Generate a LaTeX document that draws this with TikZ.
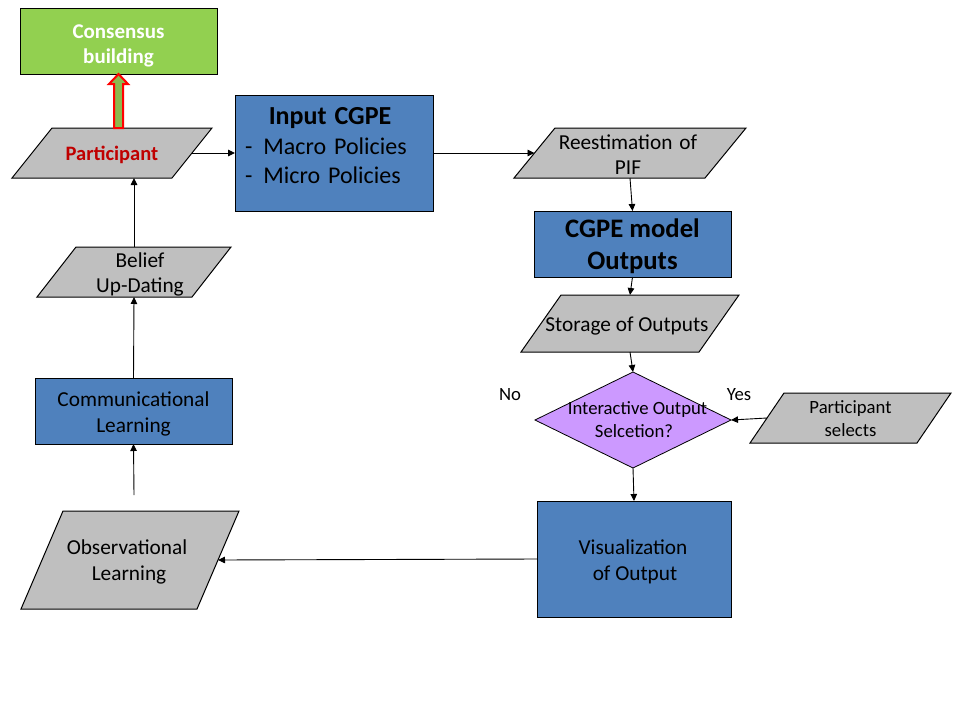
\documentclass[tikz,border=0pt]{standalone}
\usepackage{fontspec}
\setmainfont{Carlito}
\usetikzlibrary{arrows.meta,calc}
\definecolor{bluebox}{HTML}{4F81BD}
\definecolor{grayfill}{HTML}{BFBFBF}
\definecolor{greenbox}{HTML}{92D050}
\definecolor{purplefill}{HTML}{CC99FF}
\definecolor{darkred}{HTML}{C00000}
\definecolor{arrowgreen}{HTML}{8DB84E}
\newcommand\fs[2]{\fontsize{#1}{#2}\selectfont}
\tikzset{
 box/.style={draw=black, line width=1pt, fill=bluebox, inner sep=0pt, outer sep=0pt},
 pbox/.style={inner sep=0pt, outer sep=0pt},
 txt/.style={align=center, inner sep=0pt, outer sep=0pt},
 pshape/.style={draw=black, line width=1pt, fill=grayfill},
 dshape/.style={draw=black, line width=0.8pt, fill=purplefill},
 conn/.style={draw=black, line width=0.9pt, -{Triangle[length=7pt,width=6.5pt]}},
 hollowarrow/.style={draw=red, line width=2pt, fill=arrowgreen, line join=miter},
}
% [style], name, center, w, h, font, shift, then text read by \boxtext
\newcommand\boxnode[7][]{%
 \node[box, #1, minimum width=#4pt, minimum height=#5pt] (#2) at #3 {};
 \boxtext{#2}{#6}{#7}}
\newcommand\boxtext[4]{\node[txt, font=#2] (#1-text) at ($(#1.center)+#3$) {#4};}
% name, center, w, h, offset, font, shift, text
\newcommand\paranode[8]{%
 \node[pbox, minimum width=#3pt, minimum height=#4pt] (#1) at #2 {};
 \path[pshape] ([xshift=#5pt]#1.north west) -- (#1.north east) -- ([xshift=-#5pt]#1.south east) -- (#1.south west) -- cycle;
 \node[txt, font=#6] (#1-text) at ($(#1.center)+#7$) {#8};}
\begin{document}
\begin{tikzpicture}[x=1pt,y=-1pt]
\useasboundingbox (0,0) rectangle (960,720);

\boxnode[fill=greenbox]{cons}{(118.5,41)}{197}{66}{\color{white}\bfseries\fs{21}{25}}{(0,4.5)}{Consensus\\building}

\paranode{part}{(112,153)}{200}{50}{40}{\color{darkred}\bfseries\fs{20.5}{25}}{(0,2)}{Participant}

\node[box, minimum width=198pt, minimum height=116pt] (input) at (334,153) {};
\node[align=left, text width=170pt, inner sep=0pt, font=\fs{24}{29.5}] (input-text) at (330,146) {\makebox[170pt][c]{\bfseries\fs{26}{29.5}Input CGPE}\\-\hspace{11pt}Macro Policies\\-\hspace{11pt}Micro Policies};

\paranode{reest}{(630,153)}{232}{50}{41}{\fs{21.3}{25}}{(-2,1.5)}{Reestimation\hspace{7pt}of\\PIF}

\boxnode{cgpe}{(632.5,244)}{197}{66}{\bfseries\fs{26.7}{32}}{(0,2)}{CGPE model\\Outputs}

\paranode{stor}{(630,323.5)}{218}{57}{40}{\fs{21.3}{26}}{(-3,2.5)}{Storage of Outputs}

\node[pbox, minimum width=196pt, minimum height=96pt] (dia) at (633,420) {};
\path[dshape] (dia.west) -- (dia.north) -- (dia.east) -- (dia.south) -- cycle;
\node[txt, font=\fs{18.7}{23}] (dia-text) at ($(dia.center)+(1,-0.5)$) {\hspace*{7pt}Interactive Output\\Selcetion?};

\node[font=\fs{18.7}{22}] (no) at (510,394.5) {No};
\node[font=\fs{18.7}{22}] (yes) at (739,394.5) {Yes};

\paranode{sel}{(850.5,418)}{201}{50}{34}{\fs{18.7}{23}}{(0,0.5)}{Participant\\selects}

\boxnode{vis}{(634,559)}{194}{116}{\fs{21.3}{26}}{(-1,2.5)}{Visualization\\\hspace*{4pt}of Output}

\paranode{obs}{(130,560)}{218}{98}{42}{\fs{21.3}{26}}{(-3,1.5)}{Observational\\\hspace*{4pt}Learning}

\boxnode{comm}{(133.5,411)}{197}{66}{\fs{21.3}{26}}{(0,2.5)}{Communicational\\Learning}

\paranode{bel}{(134,272)}{194}{50}{39}{\fs{21.3}{25}}{(6,2)}{Belief\\Up-Dating}

\coordinate (obstop) at (134,495);

\draw[conn] ([xshift=-20pt]part.east) -- (input.west);
\draw[conn] (input.east) -- ([xshift=20.5pt]reest.west);
\draw[conn] (reest.south) -- (cgpe.north);
\draw[conn] (cgpe.south) -- (stor.north);
\draw[conn] (stor.south) -- (dia.north);
\draw[conn] ([xshift=17pt]sel.west) -- (dia.east);
\draw[conn] (dia.south) -- (vis.north);
\draw[conn] (vis.west) -- ([xshift=-21pt]obs.east);
\draw[conn] (obstop) -- (comm.south);
\draw[conn] (comm.north) -- (bel.south);
\draw[conn] (bel.north) -- (bel.north |- part.south);

\path[hollowarrow]
 ($(cons.south |- part.north)+(-4.5,0)$) -- ($(cons.south)+(-4.5,10)$) -- ($(cons.south)+(-9.5,10)$) -- (cons.south)
 -- ($(cons.south)+(9.5,10)$) -- ($(cons.south)+(4.5,10)$) -- ($(cons.south |- part.north)+(4.5,0)$) -- cycle;
\end{tikzpicture}
\end{document}
